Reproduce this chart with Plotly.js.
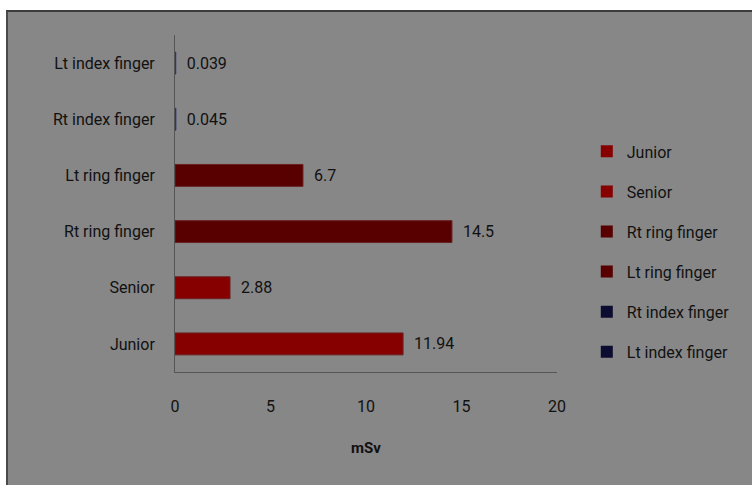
<!DOCTYPE html>
<html>
<head>
<meta charset="utf-8">
<script src="https://cdn.plot.ly/plotly-3.0.1.min.js"></script>
<style>
html,body{margin:0;padding:0;background:#ffffff;}
#bg{position:absolute;left:6px;top:10px;width:744px;height:475px;background:#878787;border-top:2px solid #3c3c3c;border-left:2px solid #4a4a4a;}
#chart{position:absolute;left:0;top:0;width:752px;height:485px;}
</style>
</head>
<body>
<div id="bg"></div>
<div id="chart"></div>
<script>
const categories = ["Junior", "Senior", "Rt ring finger", "Lt ring finger", "Rt index finger", "Lt index finger"];
const values = [11.94, 2.88, 14.5, 6.7, 0.045, 0.039];
const colors = ["#860000", "#860000", "#580000", "#580000", "#1c2260", "#1c2260"];
const legendColors = ["#860000", "#860000", "#580000", "#580000", "#0c0c30", "#0c0c30"];
const xTicks = [0, 5, 10, 15, 20];

const font = "Roboto, Open Sans, Arial, sans-serif";

const traces = categories.map((c, i) => ({
  type: "bar",
  orientation: "h",
  name: c,
  legendgroup: "g" + i,
  y: [c],
  x: [values[i]],
  text: [String(values[i])],
  texttemplate: "\u00a0\u00a0%{text}",
  textposition: "outside",
  cliponaxis: false,
  textfont: {family: font, size: 16, color: "#111111"},
  marker: {color: colors[i], line: {color: i >= 4 ? "#2a3580" : "#6a2020", width: 1}},
  hoverinfo: "x+y"
}));

const layout = {
  width: 752,
  height: 485,
  margin: {l: 175, r: 195, t: 35, b: 113, autoexpand: false},
  paper_bgcolor: "rgba(0,0,0,0)",
  plot_bgcolor: "rgba(0,0,0,0)",
  barmode: "overlay",
  bargap: 0.61,
  showlegend: true,
  font: {family: font, size: 16, color: "#111111"},
  xaxis: {
    range: [0, 20],
    tickvals: xTicks,
    ticktext: xTicks.map(String),
    showgrid: false,
    zeroline: false,
    showline: true,
    linecolor: "#555555",
    linewidth: 1,
    ticks: "",
    ticklabelstandoff: 20,
    tickfont: {family: font, size: 16, color: "#111111"},
    title: {text: "mSv", font: {family: font, size: 15, color: "#111111", weight: "bold"}, standoff: 27}
  },
  yaxis: {
    categoryorder: "array",
    categoryarray: categories,
    showgrid: false,
    zeroline: false,
    showline: true,
    linecolor: "#555555",
    linewidth: 1,
    ticks: "",
    ticklabelstandoff: 16,
    tickfont: {family: font, size: 16, color: "#111111"}
  },
  legend: {
    x: 1.078,
    xanchor: "left",
    y: 0.705,
    yanchor: "top",
    bgcolor: "rgba(0,0,0,0)",
    font: {family: font, size: 16, color: "#111111"},
    tracegroupgap: 16.3,
    itemwidth: 30,
    traceorder: "grouped"
  }
};

Plotly.newPlot("chart", traces, layout, {displayModeBar: false, staticPlot: true}).then(() => {
  document.querySelectorAll(".legend .traces").forEach((t, i) => {
    t.querySelectorAll(".legendpoints path").forEach(p => {
      p.style.fill = legendColors[i];
      p.style.stroke = "none";
    });
  });
});
</script>
</body>
</html>
